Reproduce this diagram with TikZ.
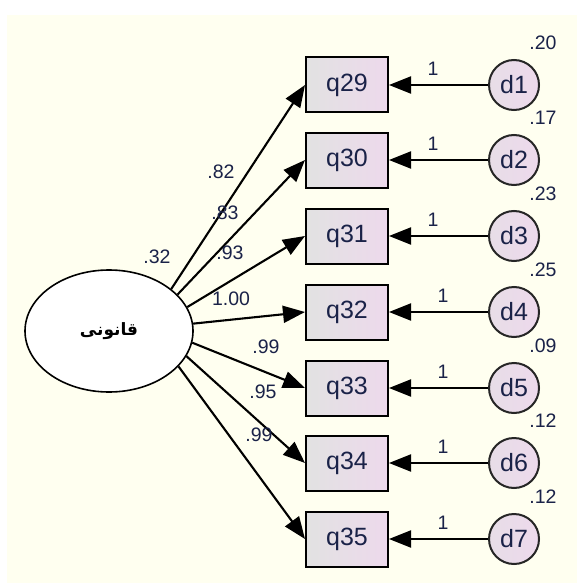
\documentclass[tikz,border=0pt]{standalone}
\usepackage{fontspec}
\setmainfont{Liberation Sans}
\newfontfamily\arabicfont[Script=Arabic]{DejaVu Sans}
\TeXXeTstate=1
\usetikzlibrary{shapes.geometric, arrows.meta, calc}
\definecolor{canvas}{HTML}{FFFFF0}
\definecolor{txtblue}{HTML}{1A2248}
\definecolor{boxpink}{HTML}{EDD9EC}
\definecolor{boxgray}{HTML}{E2E2E2}
\tikzset{%
  latent/.style = {ellipse, draw, line width=1.6pt, fill=white,
                   minimum width=168pt, minimum height=122pt, inner sep=0pt},
  obs/.style = {rectangle, draw, line width=2pt, left color=boxgray,
                right color=boxpink, minimum width=82pt, minimum height=55pt,
                font=\fontsize{25}{27}\selectfont, text=txtblue},
  err/.style = {circle, draw=black!85, line width=2pt,
                left color=boxgray!50!boxpink, right color=boxpink,
                minimum size=50pt, inner sep=0pt,
                font=\fontsize{25}{27}\selectfont, text=txtblue},
  coef/.style = {font=\fontsize{19.5}{21}\selectfont, text=txtblue, inner sep=0pt},
  loading/.style = {-{Triangle[length=22pt,width=17pt]}, line width=2.1pt}
  }

\begin{document}
\begin{tikzpicture}[x=1pt,y=-1pt]
  \useasboundingbox (0,0) rectangle (577,583);
  \fill[canvas] (7,15) rectangle (577,583);

  \node (lat) [latent] at (109,331)
    {\fontsize{17}{20}\arabicfont\bfseries\beginR قانونی\endR};
  \node (vlat) [coef] at (157,257) {.32};

  % rows: item, box, loading, error
  \foreach \i/\q/\y/\a/\c/\cx/\cy/\v/\ox in {
      1/29/85/34/.82/221/172/.20/433,
      2/30/160/28/.83/225/213/.17/433,
      3/31/236/17/.93/230/253/.23/433,
      4/32/312/5/1.00/231/299/.25/443,
      5/33/388/352/.99/266/347/.09/443,
      6/34/463/342/.95/263/392/.12/443,
      7/35/539/333/.99/259/435/.12/443}
  {
    \node (q\q) [obs] at (347,\y) {q\q};
    \node (d\i) [err] at (514,\y) {d\i};
    \draw[loading] (lat.\a) -- (q\q.west);
    \draw[loading] (d\i) -- (q\q);
    \node (c\q) [coef] at (\cx,\cy) {\c};
    \node (v\i) [coef] at ($(d\i)+(29,-42)$) {\v};
    \node (w\i) [coef] at (\ox,\y-16) {1};
  }
\end{tikzpicture}
\end{document}
